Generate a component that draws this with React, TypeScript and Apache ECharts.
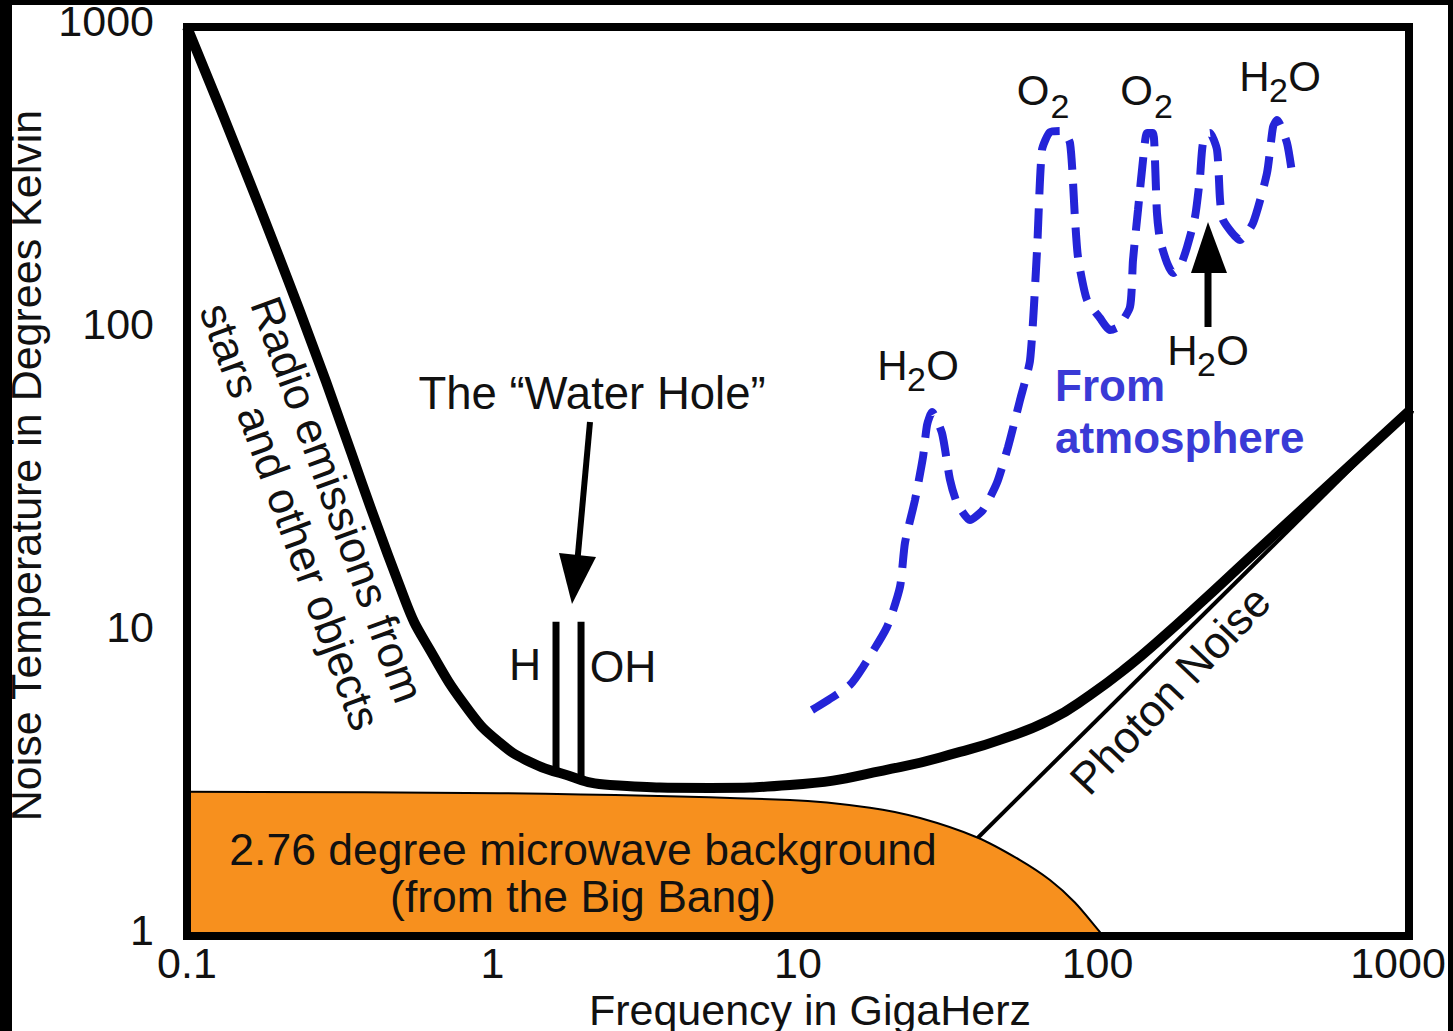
import React, { useEffect, useRef } from "react";
import * as echarts from "echarts";

// ---------- data ----------
const xTickLabels = ["0.1", "1", "10", "100", "1000"];
const yTickLabels = ["1", "10", "100", "1000"];

// total sky noise (thick black curve): [GHz, K]
const skyNoise: [number, number][] = [
  [0.1, 1000], [0.2344, 115], [0.517, 12.85], [0.6243, 8.79], [0.8441, 5.49],
  [1.058, 4.34], [1.327, 3.75], [1.663, 3.45], [2.424, 3.15], [5.15, 3.08],
  [9.41, 3.15], [21.57, 3.61], [33.9, 4.05], [45.8, 4.44], [66.8, 5.16],
  [90.3, 6.24], [122.1, 7.84], [153.1, 9.52], [207, 12.52], [300, 17.7], [1000, 54],
];

// 2.76 K microwave background (orange area)
const cmbBackground: [number, number][] = [
  [0.1, 2.99], [1.058, 2.96], [9.41, 2.81], [17.2, 2.65], [25.1, 2.45],
  [38.8, 2.11], [53.3, 1.78], [66.8, 1.53], [80.6, 1.29], [97.4, 1.03], [100, 1],
];

// photon noise (thin straight line)
const photonNoise: [number, number][] = [[38.8, 2.11], [1000, 54]];

// water hole lines
const hydrogenLine: [number, number][] = [[1.614, 10.9], [1.614, 3.5]];
const hydroxylLine: [number, number][] = [[1.949, 10.9], [1.949, 3.3]];

// atmosphere (blue dashed)
const atmosphere: [number, number][] = [
  [11.11, 5.57], [13.02, 6.15], [14.8, 6.74], [16.32, 7.72], [19.56, 10.47],
  [21.57, 14.19], [22.39, 19.82], [24.15, 27.47], [25.66, 38.1], [26.45, 48.6],
  [27.45, 53.6], [29.6, 45.7], [31.45, 32.0], [33.15, 26.9], [36.56, 23.6],
  [40.32, 25.5], [44.8, 31.3], [48.7, 41.1], [53.3, 58.7], [57.5, 79.6],
  [60.6, 183.7], [62.9, 392.8], [66.8, 450], [73.1, 454], [77.7, 414],
  [80.6, 236], [82.5, 174.1], [88.3, 125.6], [97.4, 109.5], [105.0, 100],
  [111.6, 102.3], [122.1, 119.1], [124.9, 170.2], [129.7, 248.9], [134.7, 364],
  [138.8, 446.8], [145.2, 446.8], [147.4, 364], [149.6, 243.3], [153.1, 198.2],
  [161.5, 166.4], [168.9, 154.2], [178.0, 161.4], [187.7, 187.8], [199.3, 236],
  [207.0, 319.9], [211.7, 414], [223.2, 446.8], [235.3, 392.8], [240.7, 268.5],
  [246.2, 230.7], [279.8, 198.2], [308.7, 225.5], [342.9, 329.7], [358.8, 467.7],
  [369.8, 493.3], [398.7, 414], [417.3, 312.6],
];

const FONT = "'Liberation Sans', Arial, Helvetica, sans-serif";
const INK = "#111";
const BLUE_TEXT = "#3a3ad6";
const BLUE_LINE = "#2424d8";
const ORANGE = "#f7901e";

function txt(text: string, x: number, y: number, extra: any = {}, style: any = {}) {
  return {
    type: "text",
    x,
    y,
    z: 50,
    ...extra,
    style: {
      text,
      fontSize: 44.5,
      fontFamily: FONT,
      fill: INK,
      align: "center",
      verticalAlign: "middle",
      ...style,
    },
  };
}

// chemical formula with subscript 2; anchor = centre of the "2" (x) and main glyph centre (y)
function chem(kind: "H2O" | "O2", ax: number, ay: number) {
  const main = { fontSize: 42 };
  const sub = { fontSize: 34 };
  if (kind === "H2O") {
    return [
      txt("H", ax - 24, ay, {}, main),
      txt("2", ax, ay + 14, {}, sub),
      txt("O", ax + 26, ay, {}, main),
    ];
  }
  return [txt("O", ax - 27, ay, {}, main), txt("2", ax, ay + 16, {}, sub)];
}

export default function App() {
  const ref = useRef<HTMLDivElement>(null);

  useEffect(() => {
    if (!ref.current) return;
    const chart = echarts.init(ref.current, null, { renderer: "svg" });

    const frameLine = { show: true, onZero: false, lineStyle: { color: "#000", width: 8, cap: "square" } };
    const labelStyle = { fontSize: 43, fontFamily: FONT, color: INK };

    const option: any = {
      animation: false,
      backgroundColor: "#fff",
      grid: { left: 187, right: 44, top: 27, bottom: 95, containLabel: false, outerBoundsMode: "none" },
      xAxis: [
        {
          type: "log",
          logBase: 10,
          min: 0.1,
          max: 1000,
          position: "bottom",
          z: 10,
          axisLine: frameLine,
          axisTick: { show: false },
          minorTick: { show: false },
          splitLine: { show: false },
          axisLabel: {
            ...labelStyle,
            margin: 5,
            formatter: (v: number) => {
              const i = Math.round(Math.log10(v)) + 1;
              const s = xTickLabels[i] ?? "";
              if (i === 4) return "{r|" + s + "}";
              if (i === 3) return "{m|" + s + "}";
              return s;
            },
            rich: {
              r: { ...labelStyle, padding: [0, 22, 0, 0] },
              m: { ...labelStyle, padding: [0, 12, 0, 0] },
            },
          },
          name: "Frequency in GigaHerz",
          nameLocation: "middle",
          nameGap: 50,
          nameTextStyle: { ...labelStyle, padding: [0, 0, 0, 24] },
        },
        {
          type: "log",
          logBase: 10,
          min: 0.1,
          max: 1000,
          position: "top",
          z: 10,
          axisLine: frameLine,
          axisTick: { show: false },
          splitLine: { show: false },
          axisLabel: { show: false },
        },
      ],
      yAxis: [
        {
          type: "log",
          logBase: 10,
          min: 1,
          max: 1000,
          position: "left",
          z: 10,
          axisLine: frameLine,
          axisTick: { show: false },
          minorTick: { show: false },
          splitLine: { show: false },
          axisLabel: {
            ...labelStyle,
            margin: 33,
            verticalAlign: "bottom",
            lineHeight: 12,
            formatter: (v: number) => yTickLabels[Math.round(Math.log10(v))] ?? "",
          },
          name: "Noise Temperature in Degrees Kelvin",
          nameLocation: "middle",
          nameGap: 135,
          nameTextStyle: { ...labelStyle, padding: [0, 0, 0, 32] },
        },
        {
          type: "log",
          logBase: 10,
          min: 1,
          max: 1000,
          position: "right",
          z: 10,
          axisLine: frameLine,
          axisTick: { show: false },
          splitLine: { show: false },
          axisLabel: { show: false },
        },
      ],
      series: [
        {
          name: "microwave background",
          type: "line",
          data: cmbBackground,
          smooth: 0.3,
          symbol: "none",
          z: 1,
          lineStyle: { color: "#000", width: 2 },
          areaStyle: { color: ORANGE, opacity: 1, origin: "start" },
        },
        {
          name: "photon noise",
          type: "line",
          data: photonNoise,
          symbol: "none",
          z: 3,
          lineStyle: { color: "#000", width: 4 },
        },
        {
          name: "sky noise",
          type: "line",
          data: skyNoise,
          smooth: 0.5,
          symbol: "none",
          z: 4,
          lineStyle: { color: "#000", width: 10 },
        },
        {
          name: "H",
          type: "line",
          data: hydrogenLine,
          symbol: "none",
          z: 3,
          lineStyle: { color: "#000", width: 7 },
        },
        {
          name: "OH",
          type: "line",
          data: hydroxylLine,
          symbol: "none",
          z: 3,
          lineStyle: { color: "#000", width: 7 },
        },
        {
          name: "atmosphere",
          type: "line",
          data: atmosphere,
          smooth: 0.2,
          symbol: "none",
          z: 4,
          lineStyle: { color: BLUE_LINE, width: 8, type: [30, 14] },
        },
      ],
      graphic: [
        // text annotations
        txt("The \u201CWater Hole\u201D", 592, 393, {}, { fontSize: 45.5 }),
        txt("H", 525, 664),
        txt("OH", 623, 666),
        txt("2.76 degree microwave background", 583, 849),
        txt("(from the Big Bang)", 583, 896),
        txt("Radio emissions from\nstars and other objects", 314, 508, { rotation: -1.222 }, { lineHeight: 50 }),
        txt("Photon Noise", 1170, 690, { rotation: 0.81 }),
        txt("From", 1055, 385, {}, { align: "left", fill: BLUE_TEXT, fontWeight: "bold", fontSize: 44 }),
        txt("atmosphere", 1055, 437, {}, { align: "left", fill: BLUE_TEXT, fontWeight: "bold", fontSize: 44 }),
        ...chem("H2O", 916.5, 365),
        ...chem("H2O", 1206.5, 350),
        ...chem("H2O", 1278.5, 76),
        ...chem("O2", 1060, 90),
        ...chem("O2", 1163.5, 90),
        // arrows
        { type: "line", z: 40, shape: { x1: 590, y1: 422, x2: 577, y2: 565 }, style: { stroke: "#000", lineWidth: 6 } },
        { type: "polygon", z: 40, shape: { points: [[559, 553], [596, 557], [572, 604]] }, style: { fill: "#000" } },
        { type: "line", z: 40, shape: { x1: 1208, y1: 327, x2: 1208, y2: 262 }, style: { stroke: "#000", lineWidth: 7 } },
        { type: "polygon", z: 40, shape: { points: [[1191, 273], [1227, 273], [1208, 222]] }, style: { fill: "#000" } },
        // black picture border
        { type: "rect", z: 100, shape: { x: 0, y: 0, width: 12, height: 1031 }, style: { fill: "#000" } },
        { type: "rect", z: 100, shape: { x: 0, y: 0, width: 1453, height: 5 }, style: { fill: "#000" } },
        { type: "rect", z: 100, shape: { x: 1448, y: 0, width: 5, height: 1031 }, style: { fill: "#000" } },
      ],
    };

    chart.setOption(option);
    return () => chart.dispose();
  }, []);

  return (
    <div style={{ position: "fixed", left: 0, top: 0, width: 1453, height: 1031, background: "#fff" }}>
      <div ref={ref} style={{ width: 1453, height: 1031 }} />
    </div>
  );
}
